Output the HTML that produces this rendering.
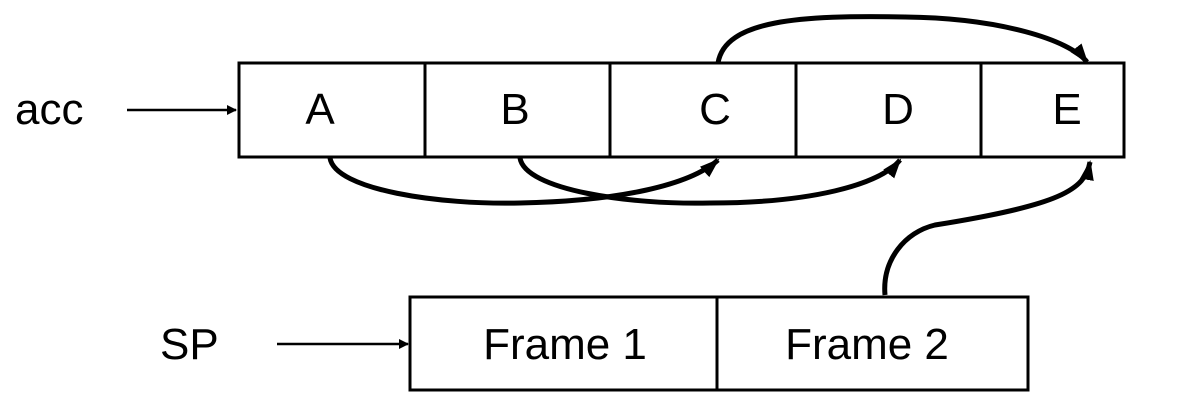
<!DOCTYPE html>
<html><head><meta charset="utf-8"><style>
html,body{margin:0;padding:0;background:#fff}
svg{display:block}
text{font-family:"Liberation Sans",sans-serif;font-size:44px;fill:#000}
</style></head><body>
<svg width="1182" height="404" viewBox="0 0 1182 404" xmlns="http://www.w3.org/2000/svg">
<defs>
<marker id="a" markerWidth="10" markerHeight="10" refX="9" refY="5" orient="auto" markerUnits="userSpaceOnUse" viewBox="0 0 10 10">
<path d="M0,0 L10,5 L0,10 z" fill="#000"/></marker>
<marker id="b" markerWidth="20" markerHeight="20" refX="18" refY="10" orient="auto" markerUnits="userSpaceOnUse" viewBox="0 0 20 20">
<path d="M0,3 L20,10 L0,17 z" fill="#000"/></marker>
</defs>
<g fill="none" stroke="#000" stroke-width="3">
<rect x="239" y="63" width="885" height="94"/>
<line x1="425" y1="63" x2="425" y2="157"/>
<line x1="610" y1="63" x2="610" y2="157"/>
<line x1="796" y1="63" x2="796" y2="157"/>
<line x1="981" y1="63" x2="981" y2="157"/>
<rect x="410" y="297" width="307" height="93"/>
<rect x="717" y="297" width="311" height="93"/>
</g>
<g stroke="#000" stroke-width="2.5">
<line x1="127" y1="110" x2="236" y2="110" marker-end="url(#a)"/>
<line x1="277" y1="344" x2="408" y2="344" marker-end="url(#a)"/>
</g>
<g fill="none" stroke="#000" stroke-width="5">
<path d="M718,63 C725,20 800,15 905,17 C1000,18 1070,40 1087,62" marker-end="url(#b)"/>
<path d="M330,158 C335,190 440,205 520,203 C620,201 690,185 718,160" marker-end="url(#b)"/>
<path d="M520,158 C525,190 630,205 710,203 C810,203 880,185 900,160" marker-end="url(#b)"/>
<path d="M885,295 C882,260 905,232 935,225 C1060,205 1085,190 1090,162" marker-end="url(#b)"/>
</g>
<text x="15" y="124">acc</text>
<text x="160" y="359">SP</text>
<text x="320" y="124" text-anchor="middle">A</text>
<text x="515" y="124" text-anchor="middle">B</text>
<text x="715" y="124" text-anchor="middle">C</text>
<text x="898" y="124" text-anchor="middle">D</text>
<text x="1067" y="124" text-anchor="middle">E</text>
<text x="565" y="359" text-anchor="middle">Frame 1</text>
<text x="867" y="359" text-anchor="middle">Frame 2</text>
</svg>
</body></html>
